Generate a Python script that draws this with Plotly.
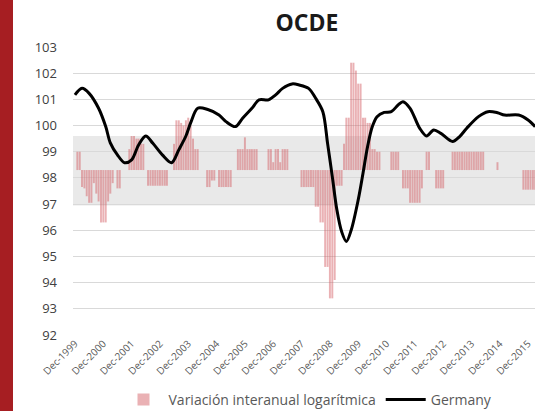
import plotly.graph_objects as go

# ---- data -------------------------------------------------------------
start_year, start_month = 1999, 12   # first monthly bar = Dec-1999

# Monthly "Variación interanual logarítmica" bars (offset from the bar base)
variacion = [
    0, 0.7, 0.7, -0.65, -0.7, -1.0, -1.25, -1.25, -0.5, -0.9, -1.2, -2.0,
    -2.0, -2.0, -1.2, -0.9, -0.5, 0, -0.7, -0.7, 0, 0, 0, 0.8,
    1.3, 1.3, 1.2, 1.2, 1.0, 1.0, 0, -0.6, -0.6, -0.6, -0.6, -0.6,
    -0.6, -0.6, -0.6, -0.6, 0, 0, 1.0, 1.9, 1.9, 1.8, 1.7, 1.9,
    2.0, 1.7, 1.2, 0.8, 0.8, 0, 0, 0, -0.65, -0.65, -0.4, -0.4,
    0, -0.65, -0.65, -0.65, -0.65, -0.65, -0.65, 0, 0, 0.8, 0.8, 0.8,
    1.25, 0.8, 0.8, 0.8, 0.8, 0.8, 0, 0, 0, 0, 0.8, 0.8,
    0.3, 0.8, 0.8, 0.3, 0.8, 0.8, 0.8, 0, 0, 0, 0, 0,
    -0.65, -0.65, -0.65, -0.65, -0.65, -0.65, -1.4, -1.4, -2.0, -2.0, -3.7, -3.7,
    -4.9, -4.9, -4.2, -0.6, -0.6, -0.6, 1.0, 2.0, 2.0, 4.1, 4.1, 3.8,
    3.3, 3.3, 2.0, 2.0, 1.8, 1.8, 0.8, 0.8, 0.7, 0.7, 0, 0,
    0, 0, 0.7, 0.7, 0.7, 0.7, 0, -0.7, -0.7, -0.7, -1.25, -1.25,
    -1.25, -1.25, -1.25, -0.7, 0, 0.7, 0.7, 0, 0, -0.7, -0.7, -0.7,
    -0.7, 0, 0, 0, 0.7, 0.7, 0.7, 0.7, 0.7, 0.7, 0.7, 0.7,
    0.7, 0.7, 0.7, 0.7, 0.7, 0.7, 0, 0, 0, 0, 0, 0.3,
    0, 0, 0, 0, 0, 0, 0, 0, 0, 0, -0.75, -0.75,
    -0.75, -0.75, -0.75, -0.75,
]
bar_base = 98.3

# Germany index (read at selected months)
germany_dates = [
    "1999-12", "2000-03", "2000-06", "2000-10", "2001-01", "2001-03", "2001-06",
    "2001-09", "2001-12", "2002-03", "2002-06", "2002-09", "2003-01", "2003-05",
    "2003-08", "2003-11", "2004-01", "2004-04", "2004-08", "2005-01", "2005-04",
    "2005-08", "2005-11", "2006-03", "2006-06", "2006-10", "2007-01", "2007-04",
    "2007-08", "2007-11", "2008-03", "2008-06", "2008-09", "2008-11", "2009-01",
    "2009-03", "2009-05", "2009-07", "2009-09", "2009-12", "2010-02", "2010-04",
    "2010-06", "2010-08", "2010-11", "2011-02", "2011-05", "2011-07", "2011-10",
    "2012-02", "2012-05", "2012-08", "2012-11", "2013-04", "2013-07", "2013-10",
    "2014-03", "2014-07", "2014-11", "2015-02", "2015-08", "2015-12", "2016-03",
]
germany_values = [
    101.17, 101.42, 101.23, 100.66, 99.96, 99.34, 98.88,
    98.58, 98.69, 99.26, 99.60, 99.32, 98.88, 98.58,
    99.07, 99.60, 100.10, 100.66, 100.62, 100.40, 100.15,
    99.96, 100.28, 100.66, 100.98, 100.98, 101.17, 101.42,
    101.59, 101.55, 101.42, 101.04, 100.53, 99.32, 98.05,
    96.78, 95.95, 95.57, 96.00, 97.16, 98.18, 99.20,
    99.96, 100.34, 100.50, 100.53, 100.79, 100.91, 100.66,
    99.90, 99.60, 99.83, 99.70, 99.39, 99.58, 99.90,
    100.34, 100.53, 100.49, 100.40, 100.40, 100.21, 99.96,
]

tick_years = list(range(1999, 2016))
tick_vals = [f"{y}-12-01" for y in tick_years]
tick_text = [f"Dec-{y}" for y in tick_years]

# month labels for the bars
bar_dates = []
for i in range(len(variacion)):
    k = start_month - 1 + i
    bar_dates.append(f"{start_year + k // 12}-{k % 12 + 1:02d}-01")

germany_x = [d + "-01" for d in germany_dates]

# ---- figure -----------------------------------------------------------
W, H = 535, 411
ml, mt, mb = 73, 47, 76
plot_w = W - ml
plot_h = H - mt - mb

fig = go.Figure()
fig.add_trace(go.Bar(
    x=bar_dates, y=variacion, base=bar_base,
    name="Variación interanual logarítmica",
    marker=dict(color="rgba(210,90,96,0.47)", line=dict(width=0)),
))
fig.add_trace(go.Scatter(
    x=germany_x, y=germany_values, name="Germany", mode="lines",
    line=dict(color="#000000", width=3, shape="spline", smoothing=0.9),
))

shapes = [
    # light grey band behind the bars
    dict(type="rect", xref="paper", yref="y", x0=0, x1=1, y0=96.95, y1=99.6,
         fillcolor="#e9e9e9", line=dict(width=0), layer="below"),
    # dark red strip at the left border of the picture
    dict(type="rect", xref="paper", yref="paper",
         x0=-ml / plot_w, x1=(13 - ml) / plot_w,
         y0=-(mb + 5) / plot_h, y1=(plot_h + mt + 5) / plot_h,
         fillcolor="#a61e22", line=dict(width=0), layer="above"),
]

fig.update_layout(
    template="none",
    width=W, height=H,
    margin=dict(l=ml, r=0, t=mt, b=mb, autoexpand=False),
    paper_bgcolor="white", plot_bgcolor="white",
    font=dict(family="Open Sans, Arial, sans-serif", color="#595959"),
    title=dict(text="<b>OCDE</b>", x=307 / W, xref="container", xanchor="center",
               y=1 - 23 / H, yref="container", yanchor="middle",
               font=dict(size=23, color="#1a1a1a", family="Open Sans, Arial, sans-serif")),
    bargap=0.1,
    showlegend=True,
    legend=dict(orientation="h", x=(308 - ml) / plot_w, xanchor="center",
                y=-(400 - (mt + plot_h)) / plot_h, yanchor="middle",
                font=dict(size=14, color="#595959"),
                itemwidth=40, bgcolor="rgba(0,0,0,0)", traceorder="normal"),
    shapes=shapes,
    xaxis=dict(type="date", range=["1999-11-06", "2016-02-28"],
               tickmode="array", tickvals=tick_vals, ticktext=tick_text,
               tickangle=-45, tickfont=dict(size=10, color="#595959"),
               showgrid=False, showline=False, zeroline=False, ticks="",
               automargin=False),
    yaxis=dict(range=[92, 103], dtick=1, tick0=92,
               showgrid=True, gridcolor="#d9d9d9", gridwidth=1,
               zeroline=False, showline=False, ticks="",
               tickfont=dict(size=13, color="#404040"),
               ticklabelstandoff=15, automargin=False),
)

fig.write_html("out.html", config={"displayModeBar": False},
               post_script="document.body.style.margin='0';document.body.style.overflow='hidden';")
